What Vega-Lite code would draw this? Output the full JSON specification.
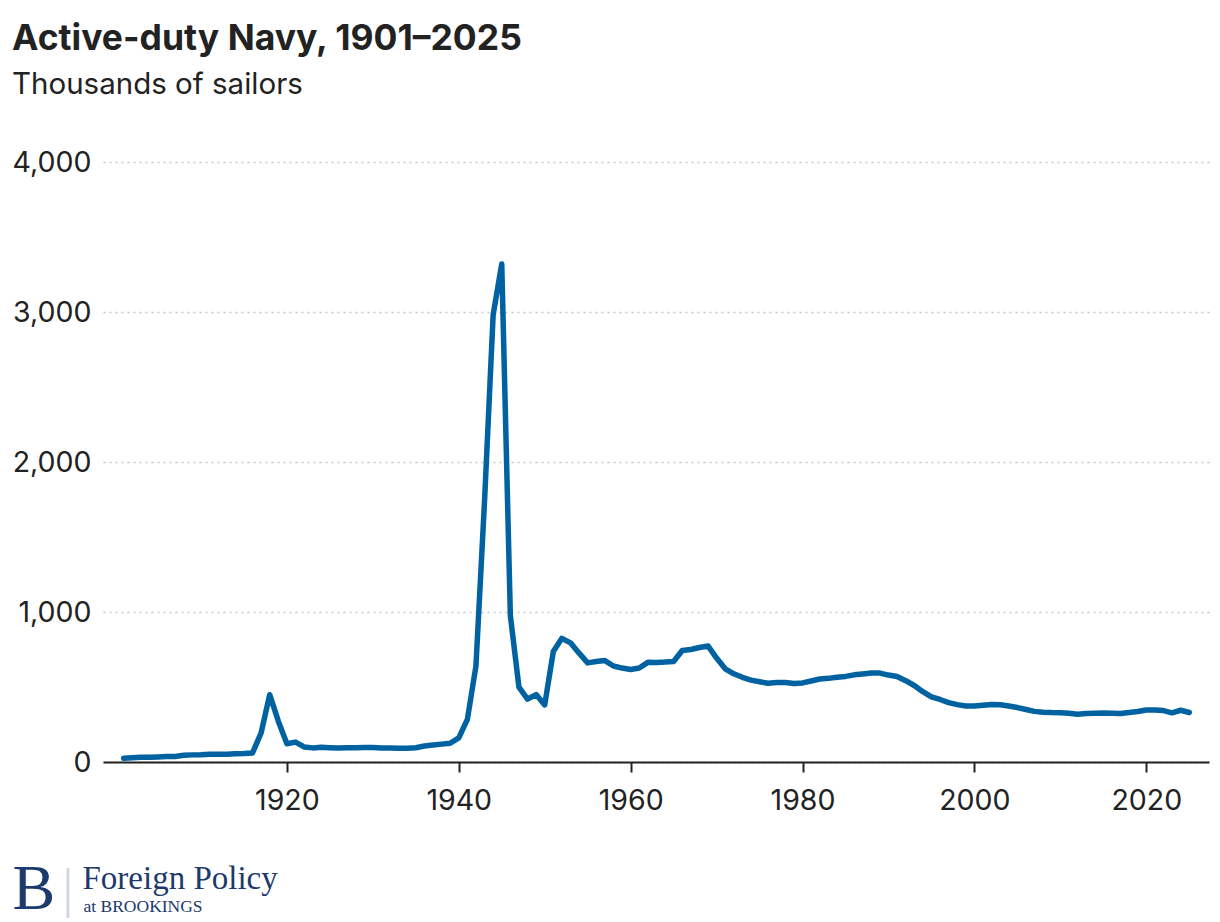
{
  "$schema": "https://vega.github.io/schema/vega-lite/v6.json",
  "width": 1106,
  "height": 600,
  "autosize": "none",
  "padding": {"left": 103, "top": 162, "right": 11, "bottom": 160},
  "background": "white",
  "title": {
    "text": "Active-duty Navy, 1901–2025",
    "subtitle": "Thousands of sailors",
    "anchor": "start",
    "frame": "bounds",
    "font": "Inter",
    "fontSize": 35.5,
    "fontWeight": "bold",
    "color": "#222222",
    "subtitleFont": "Inter",
    "subtitleFontSize": 29.5,
    "subtitleColor": "#222222",
    "subtitlePadding": 13,
    "offset": 49
  },
  "config": {"view": {"stroke": null}},
  "data": {
    "values": [
      {"year": 1901, "sailors": 25}, {"year": 1902, "sailors": 28.9}, {"year": 1903, "sailors": 31.2},
      {"year": 1904, "sailors": 32.2}, {"year": 1905, "sailors": 34}, {"year": 1906, "sailors": 36.2},
      {"year": 1907, "sailors": 37.2}, {"year": 1908, "sailors": 44.5}, {"year": 1909, "sailors": 47.5},
      {"year": 1910, "sailors": 48.5}, {"year": 1911, "sailors": 51.3}, {"year": 1912, "sailors": 51},
      {"year": 1913, "sailors": 52.3}, {"year": 1914, "sailors": 55.5}, {"year": 1915, "sailors": 57.2},
      {"year": 1916, "sailors": 60.4}, {"year": 1917, "sailors": 194.6}, {"year": 1918, "sailors": 448.6},
      {"year": 1919, "sailors": 272.1}, {"year": 1920, "sailors": 121.8}, {"year": 1921, "sailors": 132.8},
      {"year": 1922, "sailors": 100.2}, {"year": 1923, "sailors": 94.1}, {"year": 1924, "sailors": 98.2},
      {"year": 1925, "sailors": 95.2}, {"year": 1926, "sailors": 93.3}, {"year": 1927, "sailors": 94.9},
      {"year": 1928, "sailors": 95.8}, {"year": 1929, "sailors": 97.1}, {"year": 1930, "sailors": 96.9},
      {"year": 1931, "sailors": 93.3}, {"year": 1932, "sailors": 93.4}, {"year": 1933, "sailors": 91.2},
      {"year": 1934, "sailors": 92.3}, {"year": 1935, "sailors": 95.1}, {"year": 1936, "sailors": 106.3},
      {"year": 1937, "sailors": 113.6}, {"year": 1938, "sailors": 119.1}, {"year": 1939, "sailors": 125.2},
      {"year": 1940, "sailors": 161}, {"year": 1941, "sailors": 284.4}, {"year": 1942, "sailors": 640.6},
      {"year": 1943, "sailors": 1741.8}, {"year": 1944, "sailors": 2981.4}, {"year": 1945, "sailors": 3319.6},
      {"year": 1946, "sailors": 978.2}, {"year": 1947, "sailors": 498.7}, {"year": 1948, "sailors": 419.2},
      {"year": 1949, "sailors": 449.6}, {"year": 1950, "sailors": 380.7}, {"year": 1951, "sailors": 736.6},
      {"year": 1952, "sailors": 824.3}, {"year": 1953, "sailors": 794.4}, {"year": 1954, "sailors": 725.7},
      {"year": 1955, "sailors": 660.7}, {"year": 1956, "sailors": 669.9}, {"year": 1957, "sailors": 676.1},
      {"year": 1958, "sailors": 639.9}, {"year": 1959, "sailors": 626.3}, {"year": 1960, "sailors": 617},
      {"year": 1961, "sailors": 626.2}, {"year": 1962, "sailors": 664.2}, {"year": 1963, "sailors": 663.9},
      {"year": 1964, "sailors": 666}, {"year": 1965, "sailors": 670}, {"year": 1966, "sailors": 743.3},
      {"year": 1967, "sailors": 750.2}, {"year": 1968, "sailors": 763.6}, {"year": 1969, "sailors": 773.8},
      {"year": 1970, "sailors": 692.7}, {"year": 1971, "sailors": 621.6}, {"year": 1972, "sailors": 588},
      {"year": 1973, "sailors": 564.5}, {"year": 1974, "sailors": 545.9}, {"year": 1975, "sailors": 535.1},
      {"year": 1976, "sailors": 524.7}, {"year": 1977, "sailors": 529.9}, {"year": 1978, "sailors": 530.3},
      {"year": 1979, "sailors": 523.3}, {"year": 1980, "sailors": 527.2}, {"year": 1981, "sailors": 540.2},
      {"year": 1982, "sailors": 553}, {"year": 1983, "sailors": 557.6}, {"year": 1984, "sailors": 564.6},
      {"year": 1985, "sailors": 570.7}, {"year": 1986, "sailors": 581.1}, {"year": 1987, "sailors": 586.8},
      {"year": 1988, "sailors": 592.6}, {"year": 1989, "sailors": 592.7}, {"year": 1990, "sailors": 579.4},
      {"year": 1991, "sailors": 570.3}, {"year": 1992, "sailors": 541.9}, {"year": 1993, "sailors": 510},
      {"year": 1994, "sailors": 468.7}, {"year": 1995, "sailors": 434.6}, {"year": 1996, "sailors": 416.7},
      {"year": 1997, "sailors": 395.6}, {"year": 1998, "sailors": 382.3}, {"year": 1999, "sailors": 373},
      {"year": 2000, "sailors": 373.2}, {"year": 2001, "sailors": 377.8}, {"year": 2002, "sailors": 383.1},
      {"year": 2003, "sailors": 382.2}, {"year": 2004, "sailors": 373.2}, {"year": 2005, "sailors": 362.9},
      {"year": 2006, "sailors": 350.2}, {"year": 2007, "sailors": 337.5}, {"year": 2008, "sailors": 332.2},
      {"year": 2009, "sailors": 329.3}, {"year": 2010, "sailors": 328.3}, {"year": 2011, "sailors": 325.1},
      {"year": 2012, "sailors": 318.4}, {"year": 2013, "sailors": 324}, {"year": 2014, "sailors": 325.7},
      {"year": 2015, "sailors": 327.1}, {"year": 2016, "sailors": 325.8}, {"year": 2017, "sailors": 323.9},
      {"year": 2018, "sailors": 329.7}, {"year": 2019, "sailors": 337}, {"year": 2020, "sailors": 347},
      {"year": 2021, "sailors": 347}, {"year": 2022, "sailors": 343}, {"year": 2023, "sailors": 328},
      {"year": 2024, "sailors": 345}, {"year": 2025, "sailors": 330}
    ]
  },
  "layer": [
    {
      "mark": {"type": "line", "color": "#0062a0", "strokeWidth": 5.5, "strokeJoin": "round", "strokeCap": "round"},
      "encoding": {
        "x": {
          "field": "year",
          "type": "quantitative",
          "scale": {"domain": [1898.6, 2027.3], "nice": false, "zero": false},
          "axis": {
            "orient": "bottom",
            "values": [1920, 1940, 1960, 1980, 2000, 2020],
            "format": "d",
            "grid": false,
            "domainColor": "#222222",
            "domainWidth": 2,
            "tickColor": "#222222",
            "tickWidth": 2,
            "tickSize": 10,
            "labelPadding": 14,
            "labelFont": "Inter",
            "labelFontSize": 28.5,
            "labelColor": "#222222",
            "title": "Foreign Policy",
            "titleX": -21,
            "titleY": 126,
            "titleAlign": "left",
            "titleBaseline": "alphabetic",
            "titleFont": "Liberation Serif",
            "titleFontSize": 33,
            "titleFontWeight": "normal",
            "titleColor": "#1c3a6c"
          }
        },
        "y": {
          "field": "sailors",
          "type": "quantitative",
          "scale": {"domain": [0, 4000], "nice": false},
          "axis": {
            "orient": "left",
            "values": [0, 1000, 2000, 3000, 4000],
            "format": ",.0f",
            "labelAlign": "right",
            "labelPadding": 12,
            "ticks": false,
            "domain": false,
            "grid": true,
            "gridDash": [2, 4],
            "gridColor": "#c8c8c8",
            "gridWidth": 1.5,
            "labelFont": "Inter",
            "labelFontSize": 28.5,
            "labelColor": "#222222",
            "title": "B",
            "titleAngle": 0,
            "titleX": -91,
            "titleY": 746,
            "titleAlign": "left",
            "titleBaseline": "alphabetic",
            "titleFont": "Liberation Serif",
            "titleFontSize": 64,
            "titleFontWeight": "normal",
            "titleColor": "#1c3a6c"
          }
        }
      }
    },
    {
      "mark": {"type": "line", "opacity": 0},
      "encoding": {
        "x": {
          "field": "year",
          "type": "quantitative",
          "scale": {"domain": [1898.6, 2027.3], "nice": false, "zero": false},
          "axis": {
            "orient": "top",
            "labels": false,
            "ticks": false,
            "domain": false,
            "grid": false,
            "title": "|",
            "titleX": -41,
            "titleY": 743,
            "titleAlign": "left",
            "titleBaseline": "alphabetic",
            "titleFont": "Liberation Serif",
            "titleFontSize": 54,
            "titleFontWeight": "normal",
            "titleColor": "#cfd5de"
          }
        },
        "y": {
          "field": "sailors",
          "type": "quantitative",
          "scale": {"domain": [0, 4000], "nice": false},
          "axis": {
            "orient": "right",
            "labels": false,
            "ticks": false,
            "domain": false,
            "grid": false,
            "title": "at BROOKINGS",
            "titleAngle": 0,
            "titleX": -1126,
            "titleY": 749,
            "titleAlign": "left",
            "titleBaseline": "alphabetic",
            "titleFont": "Liberation Serif",
            "titleFontSize": 17.5,
            "titleFontWeight": "normal",
            "titleColor": "#1c3a6c"
          }
        }
      }
    }
  ],
  "resolve": {"scale": {"x": "independent", "y": "independent"}}
}
